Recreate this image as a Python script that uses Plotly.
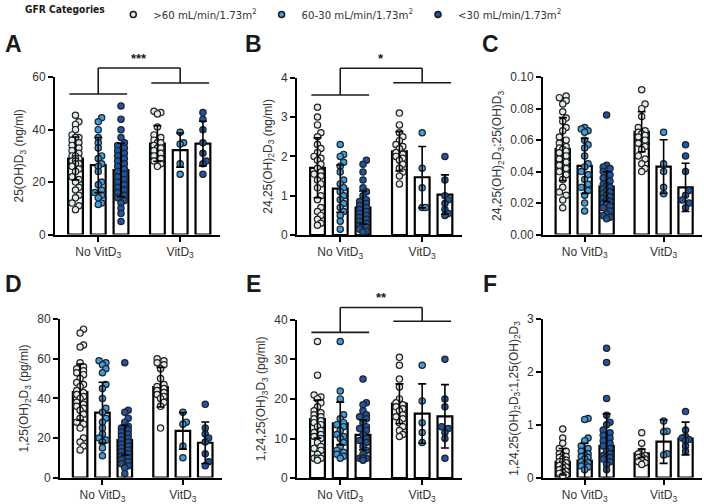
import numpy as np
import plotly.graph_objects as go

W, H = 704, 504

# GFR categories (legend) and treatment groups (x axis)
gfr_names = [">60 mL/min/1.73m<sup>2</sup>", "60-30 mL/min/1.73m<sup>2</sup>", "&lt;30 mL/min/1.73m<sup>2</sup>"]
gfr_colors = ["#e2ecf0", "#3c9de0", "#1d55a6"]
group_labels = ["No VitD<sub>3</sub>", "VitD<sub>3</sub>"]

# column order: No VitD3 (>60, 60-30, <30), VitD3 (>60, 60-30, <30)
# ---- A: 25(OH)D3 (ng/ml)
a_means = [29, 26.5, 24.6, 34.7, 32.2, 34.7]
a_sd = [8.2, 10.5, 10.2, 6.8, 6.5, 8.5]
a_pts = [
    [45.5, 43, 42, 40, 38, 37, 37, 36, 35, 34, 33, 32, 31, 30, 30, 29, 29, 28, 28, 27, 27, 26,
     25, 24, 22, 21, 20, 18, 17, 15, 14, 12, 11, 9.5],
    [44.5, 43, 40, 37, 35, 33, 30, 29, 27, 26, 24, 20, 19, 17, 16, 15, 14, 12, 11.5],
    [49, 44, 40, 37, 35, 34, 33, 32, 31, 30, 29, 28, 27, 26, 25, 24, 23, 22, 21, 20, 19, 18,
     17, 16, 15, 14, 13, 12, 10, 8, 5],
    [47, 46.5, 46, 41, 38, 37, 36, 35, 35, 34, 33, 33, 32, 31, 30, 29, 28, 27, 26],
    [39, 35, 34.5, 27, 23],
    [46.5, 44, 40, 35, 31, 28, 27, 23],
]
# ---- B: 24,25(OH)2D3 (ng/ml)
b_means = [1.71, 1.18, 0.70, 2.13, 1.47, 1.03]
b_sd = [0.76, 0.6, 0.42, 0.5, 0.78, 0.5]
b_pts = [
    [3.25, 3.0, 2.8, 2.6, 2.5, 2.3, 2.2, 2.1, 2.0, 1.95, 1.9, 1.8, 1.7, 1.6, 1.55, 1.5, 1.4,
     1.3, 1.2, 1.0, 0.9, 0.7, 0.6, 0.5, 0.4, 0.3, 0.25],
    [2.3, 2.05, 2.0, 1.85, 1.75, 1.6, 1.4, 1.3, 1.2, 1.1, 1.0, 0.9, 0.8, 0.7, 0.6, 0.5, 0.35, 0.15],
    [1.9, 1.8, 1.6, 1.4, 1.2, 1.1, 1.0, 0.9, 0.85, 0.8, 0.75, 0.7, 0.65, 0.6, 0.55, 0.5, 0.45,
     0.4, 0.35, 0.3, 0.25, 0.2, 0.15, 0.1, 0.08],
    [3.1, 2.8, 2.6, 2.5, 2.4, 2.3, 2.25, 2.2, 2.1, 2.05, 2.0, 1.95, 1.9, 1.8, 1.7, 1.6, 1.5, 1.3],
    [2.6, 1.7, 1.2, 0.7, 0.7],
    [2.0, 1.4, 1.0, 0.9, 0.8, 0.65, 0.55, 0.5],
]
# ---- C: 24,25(OH)2D3:25(OH)D3
c_means = [0.0543, 0.0436, 0.0305, 0.0653, 0.0432, 0.030]
c_sd = [0.020, 0.0175, 0.0095, 0.0127, 0.017, 0.0153]
c_pts = [
    [0.088, 0.087, 0.085, 0.083, 0.078, 0.074, 0.072, 0.068, 0.066, 0.062, 0.060, 0.058, 0.056,
     0.055, 0.054, 0.053, 0.052, 0.050, 0.048, 0.046, 0.044, 0.042, 0.040, 0.038, 0.035, 0.030,
     0.027, 0.025, 0.022, 0.017],
    [0.068, 0.067, 0.066, 0.065, 0.060, 0.057, 0.055, 0.050, 0.045, 0.043, 0.040, 0.038, 0.035,
     0.032, 0.030, 0.028, 0.025, 0.020, 0.015],
    [0.076, 0.044, 0.043, 0.042, 0.040, 0.038, 0.036, 0.034, 0.032, 0.031, 0.030, 0.029, 0.028,
     0.027, 0.026, 0.025, 0.024, 0.023, 0.022, 0.021, 0.020, 0.019, 0.018, 0.017, 0.015, 0.013,
     0.012, 0.011, 0.010],
    [0.092, 0.083, 0.080, 0.075, 0.068, 0.066, 0.065, 0.064, 0.063, 0.062, 0.060, 0.058, 0.056,
     0.054, 0.050, 0.048, 0.045, 0.042, 0.040],
    [0.065, 0.045, 0.040, 0.030, 0.026],
    [0.057, 0.050, 0.040, 0.028, 0.025, 0.022, 0.020, 0.017],
]
# ---- D: 1,25(OH)2D3 (pg/ml)
d_means = [43.2, 32.8, 18.9, 45.7, 23.6, 17.6]
d_sd = [14.2, 15.4, 7.5, 10.0, 9.2, 10.5]
d_pts = [
    [75, 73, 67, 66, 58, 56, 55, 54, 53, 52, 50, 48, 47, 46, 44, 43, 42, 41, 40, 38, 37, 36, 35,
     34, 32, 30, 28, 27, 25, 20, 18, 16, 14],
    [59, 58, 57, 55, 53, 47, 45, 40, 35, 33, 30, 28, 25, 22, 20, 19, 18, 15, 11],
    [58, 34, 33, 30, 28, 26, 25, 24, 23, 22, 21, 20, 19, 18, 17, 16, 15, 14, 13, 12, 11, 10, 9,
     8, 7, 6, 5, 2],
    [60, 59, 58, 57, 55, 50, 47, 46, 45, 44, 43, 42, 41, 40, 38, 36, 25],
    [33, 28, 27, 16, 10],
    [37, 25, 22, 20, 18, 12, 8, 6],
]
# ---- E: 1,24,25(OH)3D3 (pg/ml)
e_means = [14.9, 13.8, 10.9, 18.8, 16.3, 15.6]
e_sd = [4.8, 5.4, 3.8, 5.0, 7.5, 8.0]
e_pts = [
    [34.5, 26, 21, 20.5, 20, 19, 18, 17, 16.5, 16, 15.5, 15, 14.5, 14, 13.5, 13, 12, 11.5, 11,
     10.5, 10, 9, 8, 7.5, 7, 6, 5, 5, 5, 4.5],
    [34.5, 22, 20, 16, 15, 14, 13.5, 13, 12, 11, 10.5, 10, 9, 8, 7, 6.5, 6, 5.5, 5],
    [25, 19, 18.5, 17, 16, 15.5, 15, 14, 13, 12.5, 12, 11, 10, 9.5, 9, 8, 7, 6, 5, 5, 5, 5, 4.5],
    [30.5, 28.5, 25, 23, 20, 19, 18.5, 18, 17.5, 17, 16, 15.5, 15, 14, 13, 12, 11, 10.5],
    [28.5, 19.5, 14, 11.5, 9],
    [30, 20, 18, 13, 12.5, 11.5, 10, 5],
]
# ---- F: 1,24,25(OH)2D3:1,25(OH)2D3
f_means = [0.30, 0.32, 0.60, 0.46, 0.68, 0.74]
f_sd = [0.25, 0.33, 0.61, 0.08, 0.41, 0.31]
f_pts = [
    [0.92, 0.75, 0.65, 0.55, 0.5, 0.45, 0.42, 0.4, 0.38, 0.35, 0.33, 0.3, 0.3, 0.28, 0.25, 0.23,
     0.2, 0.18, 0.15, 0.12, 0.1, 0.08, 0.05, 0.03],
    [1.12, 1.1, 0.75, 0.7, 0.6, 0.55, 0.5, 0.45, 0.42, 0.4, 0.38, 0.35, 0.3, 0.28, 0.25, 0.22,
     0.2, 0.15],
    [2.45, 2.18, 1.5, 1.18, 1.05, 1.0, 0.9, 0.85, 0.8, 0.75, 0.7, 0.65, 0.6, 0.55, 0.5, 0.45,
     0.42, 0.4, 0.38, 0.35, 0.3, 0.25, 0.15],
    [0.85, 0.65, 0.5, 0.45, 0.42, 0.4, 0.38, 0.35, 0.33, 0.3, 0.28, 0.25],
    [1.07, 0.88, 0.87, 0.45, 0.43],
    [1.25, 0.9, 0.78, 0.75, 0.72, 0.7, 0.6, 0.5],
]

# significance brackets: (group 1 line, top, group 2 line, label)
a_sig = (53.6, 63.5, 57.8, "***")
b_sig = (3.56, 4.24, 3.87, "*")
e_sig = (36.8, 43.1, 39.6, "**")

# ---------------- layout helpers ----------------
x_pos = [0, 1, 2, 3.6, 4.6, 5.6]
group_pos = [1, 4.6]
x_range = [-0.9, 6.35]
bar_w = 0.65
font = "Arial, Liberation Sans, sans-serif"
narrow = "DejaVu Sans Condensed, Arial, sans-serif"

panels = [
    dict(letter="A", means=a_means, sd=a_sd, pts=a_pts, ymax=60, dtick=20, fmt="",
         title="25(OH)D<sub>3</sub> (ng/ml)", px=(55, 220, 77.5, 235.5), sig=a_sig, lpos=(13, 44)),
    dict(letter="B", means=b_means, sd=b_sd, pts=b_pts, ymax=4, dtick=1, fmt="",
         title="24,25(OH)<sub>2</sub>D<sub>3</sub> (ng/ml)", px=(297, 462, 78, 236), sig=b_sig, lpos=(253, 44)),
    dict(letter="C", means=c_means, sd=c_sd, pts=c_pts, ymax=0.10, dtick=0.02, fmt=".2f",
         title="24,25(OH)<sub>2</sub>D<sub>3</sub>:25(OH)D<sub>3</sub>", px=(543, 702, 77.5, 235.5), sig=None, lpos=(490, 44)),
    dict(letter="D", means=d_means, sd=d_sd, pts=d_pts, ymax=80, dtick=20, fmt="",
         title="1,25(OH)<sub>2</sub>D<sub>3</sub> (pg/ml)", px=(60, 222, 320.5, 479.5), sig=None, lpos=(13, 285)),
    dict(letter="E", means=e_means, sd=e_sd, pts=e_pts, ymax=40, dtick=10, fmt="",
         title="1,24,25(OH)<sub>3</sub>D<sub>3</sub> (pg/ml)", px=(297, 462, 321, 480), sig=e_sig, lpos=(253, 285)),
    dict(letter="F", means=f_means, sd=f_sd, pts=f_pts, ymax=3, dtick=1, fmt="",
         title="1,24,25(OH)<sub>2</sub>D<sub>3</sub>:1,25(OH)<sub>2</sub>D<sub>3</sub>", px=(543, 702, 320.5, 479.5), sig=None, lpos=(490, 285)),
]


def swarm(vals, center, ppx, ppy, d=6.8, half=0.24):
    # simple beeswarm: spread points sideways (inside the bar) so they overlap less
    vals = np.asarray(vals, dtype=float)
    order = np.argsort(vals)
    step = d * 0.5 / ppx
    cands = [0.0]
    k = 1
    while k * step <= half + 1e-9:
        cands += [k * step, -k * step]
        k += 1
    placed = []
    xs = np.zeros(len(vals))
    for i in order:
        y = vals[i] * ppy
        best, best_gap = 0.0, -1
        for ox in cands:
            gap = min([np.hypot(ox * ppx - px, y - py) for px, py in placed] or [99])
            if gap >= 0.75 * d:
                best = ox
                break
            if gap > best_gap:
                best, best_gap = ox, gap
        placed.append((best * ppx, y))
        xs[i] = center + best
    return xs


fig = go.Figure()
annotations = []
shapes = []

for pi, p in enumerate(panels):
    n = "" if pi == 0 else str(pi + 1)
    xa, ya = "x" + n, "y" + n
    l, r, t, b = p["px"]
    ppx = (r - l) / (x_range[1] - x_range[0])
    ppy = (b - t) / p["ymax"]

    fig.add_trace(go.Bar(x=x_pos, y=p["means"], width=bar_w, xaxis=xa, yaxis=ya,
                         marker=dict(color="white", line=dict(color="black", width=2.2)),
                         showlegend=False, hoverinfo="skip"))
    for ci, vals in enumerate(p["pts"]):
        xs = swarm(vals, x_pos[ci], ppx, ppy)
        fig.add_trace(go.Scatter(x=xs, y=vals, mode="markers", xaxis=xa, yaxis=ya, cliponaxis=False,
                                 marker=dict(size=6.3, color=gfr_colors[ci % 3],
                                             line=dict(color="#222", width=1.2)),
                                 showlegend=False))
    fig.add_trace(go.Scatter(x=x_pos, y=p["means"], mode="markers", xaxis=xa, yaxis=ya,
                             marker=dict(size=1, opacity=0),
                             error_y=dict(type="data", array=p["sd"], color="black", thickness=1.6, width=4),
                             showlegend=False, hoverinfo="skip"))

    fig.update_layout(**{
        "xaxis" + n: dict(domain=[l / W, r / W], anchor=ya, range=x_range, showline=True, linecolor="black",
                          linewidth=2, ticks="outside", ticklen=5, tickwidth=1.6, tickcolor="black",
                          tickvals=group_pos, ticktext=group_labels, showgrid=False, zeroline=False,
                          tickfont=dict(size=12, color="#333", family=font)),
        "yaxis" + n: dict(domain=[1 - b / H, 1 - t / H], anchor=xa, range=[0, p["ymax"]], showline=True,
                          linecolor="black", linewidth=2, ticks="outside", ticklen=5, tickwidth=1.6,
                          tickcolor="black", dtick=p["dtick"], tick0=0, tickformat=p["fmt"],
                          showgrid=False, zeroline=False, automargin=False,
                          tickfont=dict(size=12, color="#333", family=font),
                          title=dict(text=p["title"], font=dict(size=12, color="#333", family=font), standoff=6)),
    })

    annotations.append(dict(text="<b>%s</b>" % p["letter"], xref="paper", yref="paper",
                            x=p["lpos"][0] / W, y=1 - p["lpos"][1] / H, xanchor="center", yanchor="middle",
                            showarrow=False, font=dict(size=23, color="#1a1a1a", family=font)))

    if p["sig"]:
        g1, top, g2, stars = p["sig"]
        ym = p["ymax"]
        segs = [
            (x_pos[0] - 0.27, g1, x_pos[2] + 0.27, g1),
            (group_pos[0], g1, group_pos[0], top),
            (group_pos[0], top, group_pos[1], top),
            (group_pos[1], top, group_pos[1], g2),
            (x_pos[3] - 0.27, g2, x_pos[5] + 0.27, g2),
        ]
        for x0, y0, x1, y1 in segs:
            shapes.append(dict(type="line", xref=xa, yref=ya + " domain", x0=x0, x1=x1,
                               y0=y0 / ym, y1=y1 / ym, line=dict(color="#1a1a1a", width=1.6)))
        annotations.append(dict(text="<b>%s</b>" % stars, xref=xa, yref=ya + " domain",
                                x=(group_pos[0] + group_pos[1]) / 2, y=top / ym, yanchor="bottom",
                                showarrow=False, font=dict(size=13, color="#1a1a1a", family=font)))

# legend entries
for ci, name in enumerate(gfr_names):
    fig.add_trace(go.Scatter(x=[None], y=[None], mode="markers", name=name,
                             marker=dict(size=6, color=gfr_colors[ci], line=dict(color="#1a1a1a", width=1.5))))

fig.update_layout(
    width=W, height=H,
    margin=dict(l=0, r=0, t=0, b=0),
    paper_bgcolor="white", plot_bgcolor="white",
    font=dict(family=font, color="#333"),
    barmode="overlay",
    annotations=annotations,
    shapes=shapes,
    legend=dict(orientation="h", x=23 / W, y=1, xanchor="left", yanchor="top",
                title=dict(text="<b>GFR Categories</b>", side="left",
                           font=dict(size=10.2, color="#1a1a1a", family=narrow)),
                font=dict(size=11.3, color="#333", family=narrow), itemwidth=30),
)

# page has a default 8px body margin; drop it so the figure fills the window
fig.write_html("out.html", config={"displayModeBar": False},
               post_script="document.body.style.margin='0';")
